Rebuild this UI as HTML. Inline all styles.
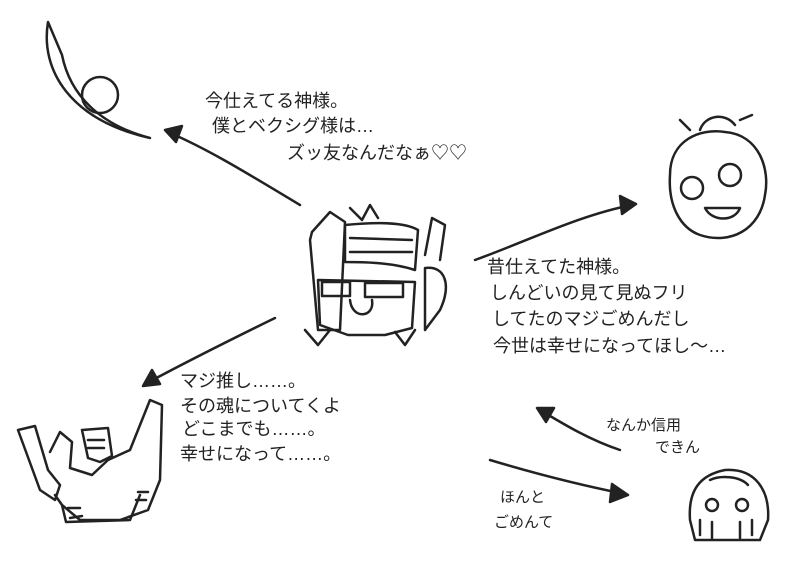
<!DOCTYPE html>
<html><head><meta charset="utf-8"><style>
html,body{margin:0;padding:0;background:#fff;}
.w{position:relative;width:800px;height:574px;overflow:hidden;}
svg{position:absolute;left:0;top:0;}
.t{position:absolute;font-family:"Liberation Sans","Noto Sans CJK JP",sans-serif;font-size:18px;color:#222;white-space:nowrap;line-height:1;}
</style></head><body><div class="w">
<svg width="800" height="574" fill="none" stroke="#222" stroke-width="2.5" stroke-linecap="round" stroke-linejoin="round">
<!-- top left moon + ball -->
<path d="M48 22 C40 70 70 120 150 138 C100 125 70 95 62 55 Z"/>
<circle cx="100" cy="95" r="18"/>
<!-- arrows -->
<path d="M300 205 C250 175 210 150 168 132"/><path d="M165 130 L182 126 L176 142 Z" fill="#222"/>
<path d="M475 260 C530 240 580 215 632 205"/><path d="M636 204 L620 196 L622 214 Z" fill="#222"/>
<path d="M275 318 C230 340 190 360 147 383"/><path d="M143 386 L152 370 L160 384 Z" fill="#222"/>
<path d="M620 450 C590 440 565 425 540 410"/><path d="M537 408 L554 408 L546 422 Z" fill="#222"/>
<path d="M490 460 C540 475 580 485 625 494"/><path d="M628 495 L612 484 L610 502 Z" fill="#222"/>
<!-- center robot -->
<path d="M312 232 L330 212 L345 222 L340 330 L318 330 L310 240 Z"/>
<path d="M345 225 C375 222 405 222 418 230 L415 270 C390 262 360 262 345 262 Z"/>
<path d="M350 238 L412 240 M350 252 L412 252"/>
<path d="M350 208 L362 220 L370 205 L378 218"/>
<path d="M425 255 L432 218 L445 225 L440 260 M425 268 C445 265 452 285 440 310 L425 330 Z"/>
<path d="M318 280 L415 282 L412 328 L385 335 L348 335 L320 325 Z"/>
<rect x="322" y="282" width="28" height="14"/><rect x="365" y="283" width="38" height="14"/>
<path d="M350 300 C352 320 375 318 372 300"/>
<path d="M305 330 L318 345 L330 330 M395 332 L405 345 L415 330"/>
<!-- top right face -->
<path d="M670 175 C670 140 700 128 725 132 C760 135 770 170 765 195 C760 230 730 245 700 235 C680 228 668 205 670 175 Z"/>
<path d="M700 130 C705 115 725 112 735 125 M740 120 L752 115 M690 130 L680 120"/>
<circle cx="692" cy="188" r="11"/><circle cx="730" cy="175" r="11"/>
<path d="M705 208 C712 222 735 222 740 208 Z"/>
<!-- bottom left robot -->
<path d="M18 430 L35 426 L48 470 L60 485 L55 500 L40 490 Z"/>
<path d="M50 452 L60 432 L72 442 L70 468 L92 475 L108 460 L130 450 L150 400 L162 405 L160 480 L148 510 L120 520 L80 520 L62 505 L55 495"/>
<path d="M82 430 L108 428 L112 456 L100 462 L88 458 Z"/><path d="M88 440 L104 440 M88 448 L104 448"/>
<path d="M62 505 L66 522 L130 520 L140 495"/>
<path d="M68 508 L80 508 M70 518 L82 516 M138 492 L148 492 M136 500 L146 500"/>
<!-- bottom right head -->
<path d="M690 520 C688 490 700 475 725 470 C755 468 770 490 768 520 L760 540 L695 540 Z"/>
<path d="M710 480 C720 475 740 476 748 485"/>
<circle cx="712" cy="505" r="6"/><circle cx="742" cy="505" r="6"/>
<path d="M700 520 L700 535 M712 522 L712 538 M740 522 L740 538 M752 520 L752 535"/>
</svg>
<div class="t" style="left:205px;top:92px">今仕えてる神様。</div>
<div class="t" style="left:212px;top:117px">僕とベクシグ様は…</div>
<div class="t" style="left:287px;top:144px">ズッ友なんだなぁ♡♡</div>
<div class="t" style="left:487px;top:258px">昔仕えてた神様。</div>
<div class="t" style="left:490px;top:284px">しんどいの見て見ぬフリ</div>
<div class="t" style="left:492px;top:310px">してたのマジごめんだし</div>
<div class="t" style="left:493px;top:337px">今世は幸せになってほし〜…</div>
<div class="t" style="left:180px;top:372px">マジ推し……。</div>
<div class="t" style="left:180px;top:397px">その魂についてくよ</div>
<div class="t" style="left:182px;top:420px">どこまでも……。</div>
<div class="t" style="left:180px;top:445px">幸せになって……。</div>
<div class="t" style="left:606px;top:418px;font-size:15px">なんか信用</div>
<div class="t" style="left:655px;top:440px;font-size:15px">できん</div>
<div class="t" style="left:500px;top:490px;font-size:15px">ほんと</div>
<div class="t" style="left:494px;top:515px;font-size:15px">ごめんて</div>
</div></body></html>
